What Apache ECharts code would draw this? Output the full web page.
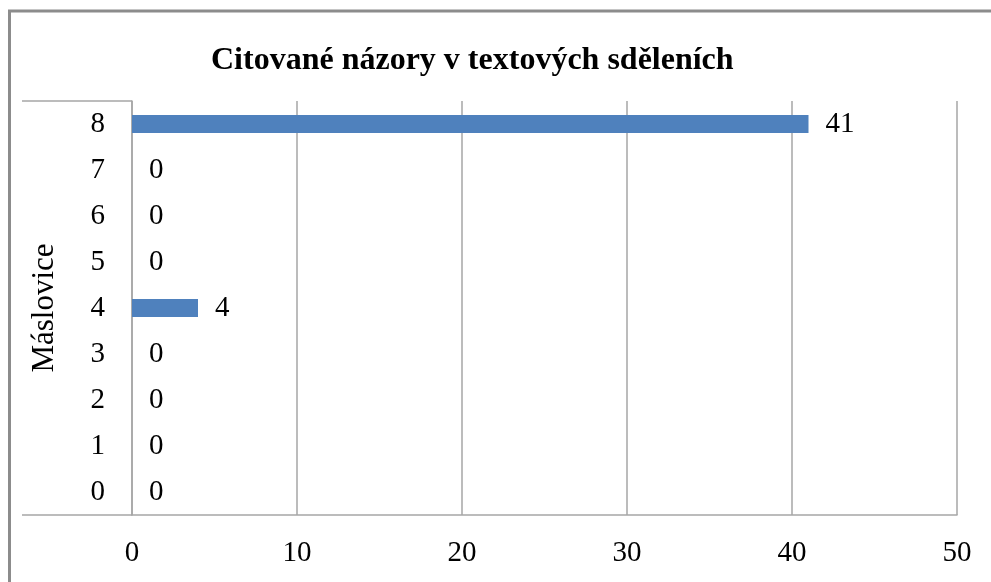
<!DOCTYPE html>
<html>
<head>
<meta charset="utf-8">
<script src="https://cdn.jsdelivr.net/npm/echarts@6/dist/echarts.min.js"></script>
<style>
  html, body { margin: 0; padding: 0; background: #fff; }
  #chart { width: 991px; height: 582px; }
</style>
</head>
<body>
<div id="chart"></div>
<script>
// data
const categories = ['0', '1', '2', '3', '4', '5', '6', '7', '8'];
const values = [0, 0, 0, 0, 4, 0, 0, 0, 41];
const axisName = 'Máslovice';
const titleText = 'Citované názory v textových sděleních';

const serif = '"Liberation Serif", "DejaVu Serif", serif';
const lineGray = '#a6a6a6';

const chart = echarts.init(document.getElementById('chart'));

const option = {
  backgroundColor: '#fff',
  animation: false,
  title: {
    text: titleText,
    left: 206,
    top: 40,
    textStyle: { fontFamily: serif, fontSize: 32, fontWeight: 'bold', color: '#000' }
  },
  grid: { left: 132, right: 34, top: 101, bottom: 67 },
  xAxis: {
    type: 'value',
    min: 0,
    max: 50,
    interval: 10,
    axisLine: { show: true, lineStyle: { color: lineGray, width: 1.5 } },
    axisTick: { show: false },
    axisLabel: { fontFamily: serif, fontSize: 29, color: '#000', margin: 24 },
    splitLine: { show: true, lineStyle: { color: lineGray, width: 1.5 } }
  },
  yAxis: {
    type: 'category',
    data: categories,
    name: axisName,
    nameLocation: 'middle',
    nameGap: 72,
    nameTextStyle: { fontFamily: serif, fontSize: 31, color: '#000' },
    axisLine: { show: true, lineStyle: { color: lineGray, width: 1.5 } },
    axisTick: { show: false },
    axisLabel: { fontFamily: serif, fontSize: 29, color: '#000', margin: 27 },
    splitLine: { show: false }
  },
  series: [{
    type: 'bar',
    data: values,
    barWidth: 18,
    itemStyle: { color: '#4f81bd' },
    label: {
      show: true,
      position: 'right',
      distance: 17,
      fontFamily: serif,
      fontSize: 29,
      color: '#000'
    }
  }],
  graphic: [
    // outer frame
    { type: 'rect', shape: { x: 9.5, y: 11, width: 1000, height: 600 },
      style: { fill: 'none', stroke: '#8c8c8c', lineWidth: 3 } },
    // category header bracket
    { type: 'line', shape: { x1: 22, y1: 101, x2: 132, y2: 101 },
      style: { stroke: lineGray, lineWidth: 1.5 } },
    { type: 'line', shape: { x1: 22, y1: 515, x2: 132, y2: 515 },
      style: { stroke: lineGray, lineWidth: 1.5 } }
  ]
};

chart.setOption(option);
</script>
</body>
</html>
